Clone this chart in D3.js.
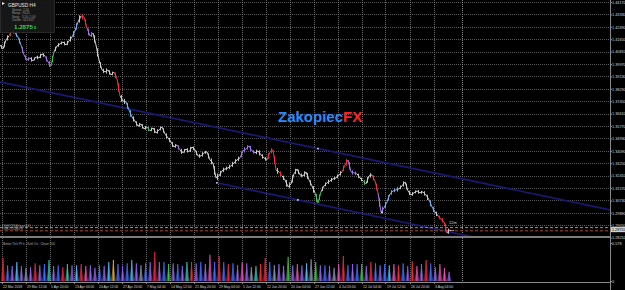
<!DOCTYPE html>
<html>
<head>
<meta charset="utf-8">
<title>GBPUSD H4</title>
<style>
  body { margin: 0; background: #000; }
  svg { display: block; font-family: "Liberation Sans", Arial, sans-serif; }
</style>
</head>
<body>
<svg id="canvas" width="625" height="290"></svg>
<script src="https://cdn.jsdelivr.net/npm/d3@7"></script>
<script>
// H4 closes, sampled along the chart
const closes = [
  1.4126, 1.4099, 1.4160, 1.4187, 1.4227, 1.4207, 1.4180, 1.4126, 1.4058, 1.4024,
  1.4038, 1.4018, 1.4045, 1.4038, 1.4065, 1.4051, 1.4011, 1.3984, 1.4079, 1.4119,
  1.4133, 1.4146, 1.4126, 1.4153, 1.4180, 1.4221, 1.4282, 1.4322, 1.4315, 1.4241,
  1.4187, 1.4207, 1.4126, 1.4024, 1.3957, 1.3943, 1.3957, 1.3923, 1.3943, 1.3896,
  1.3781, 1.3747, 1.3740, 1.3686, 1.3638, 1.3611, 1.3577, 1.3591, 1.3557, 1.3571,
  1.3544, 1.3564, 1.3530, 1.3550, 1.3571, 1.3523, 1.3496, 1.3469, 1.3435, 1.3449,
  1.3415, 1.3395, 1.3422, 1.3402, 1.3435, 1.3415, 1.3374, 1.3374, 1.3395, 1.3402,
  1.3347, 1.3327, 1.3225, 1.3239, 1.3273, 1.3286, 1.3293, 1.3307, 1.3327, 1.3347,
  1.3361, 1.3408, 1.3422, 1.3442, 1.3408, 1.3395, 1.3408, 1.3381, 1.3361, 1.3347,
  1.3402, 1.3415, 1.3280, 1.3266, 1.3239, 1.3212, 1.3165, 1.3185, 1.3253, 1.3286,
  1.3246, 1.3239, 1.3266, 1.3212, 1.3171, 1.3124, 1.3056, 1.3131, 1.3171, 1.3192,
  1.3205, 1.3219, 1.3225, 1.3246, 1.3266, 1.3313, 1.3347, 1.3266, 1.3259, 1.3253,
  1.3225, 1.3205, 1.3185, 1.3239, 1.3246, 1.3205, 1.3124, 1.2995, 1.3022, 1.3063,
  1.3117, 1.3137, 1.3144, 1.3151, 1.3171, 1.3198, 1.3137, 1.3110, 1.3124, 1.3137,
  1.3124, 1.3131, 1.3110, 1.3077, 1.3029, 1.2995, 1.2968, 1.2948, 1.2928, 1.2853,
  1.28755
];
// high-low range of each sample, in pips
const rangePips = [
  30, 25, 40, 35, 45, 30, 25, 35, 40, 30,
  25, 30, 20, 25, 30, 25, 35, 40, 45, 30,
  25, 20, 25, 30, 35, 40, 45, 50, 35, 40,
  45, 35, 50, 55, 40, 30, 35, 30, 25, 40,
  60, 45, 35, 40, 45, 35, 30, 25, 30, 25,
  30, 25, 35, 30, 25, 30, 35, 30, 35, 25,
  30, 35, 25, 30, 35, 25, 30, 25, 30, 20,
  35, 40, 60, 45, 35, 30, 25, 30, 35, 30,
  30, 40, 35, 30, 35, 25, 30, 35, 30, 25,
  40, 35, 55, 40, 35, 30, 45, 40, 50, 35,
  30, 25, 35, 40, 35, 45, 55, 40, 30, 25,
  30, 25, 20, 25, 30, 40, 45, 50, 30, 25,
  30, 25, 35, 40, 30, 35, 45, 60, 45, 40,
  35, 30, 25, 30, 25, 35, 40, 30, 25, 20,
  25, 20, 30, 35, 40, 35, 30, 25, 30, 50,
  35
];
// candle colour runs (w white, r red, b light blue, p purple, g green)
const toneRuns = [
  ["w",4],["r",2],["b",2],["p",3],["w",5],["p",2],["g",1],["w",6],["b",2],["w",1],
  ["r",2],["p",2],["w",7],["r",2],["w",2],["b",2],["w",5],["g",1],["w",9],["p",1],
  ["w",20],["p",5],["w",4],["r",3],["w",1],["r",1],["w",11],["g",2],["w",7],["r",2],
  ["p",3],["w",2],["g",1],["w",2],["r",2],["p",2],["b",5],["w",10],["b",2],["w",1],
  ["r",3],["w",1]
];
const dateLabels = ["22 Mar 2018", "29 Mar 12:00", "5 Apr 20:00", "13 Apr 04:00", "20 Apr 12:00",
  "27 Apr 20:00", "7 May 04:00", "14 May 12:00", "21 May 20:00", "29 May 04:00", "5 Jun 12:00",
  "12 Jun 20:00", "20 Jun 04:00", "27 Jun 12:00", "4 Jul 20:00", "12 Jul 04:00", "19 Jul 12:00",
  "26 Jul 20:00", "3 Aug 04:00"];
const priceTicks = [1.44170, 1.43330, 1.42490, 1.41650, 1.40810, 1.39970, 1.39130, 1.38290,
  1.37450, 1.36610, 1.35770, 1.34930, 1.34090, 1.33250, 1.32410, 1.31570, 1.30730, 1.29890,
  1.29050, 1.28210];
const upperChannel = [[0, 1.3876], [106, 1.3424]];
const lowerChannel = [[72.3, 1.3192], [99.3, 1.3076]];
const markers = [[72.3, 1.3192], [99.3, 1.3076], [106, 1.3424], [127.3, 1.2991]];
const orderPrices = [1.28885, 1.2867];
const orderLabels = ["#SHOT2DM buy 0.01", "#SHOT2DM4 sl"];
const currentPrice = 1.28755;
// tick volume spikes (one per session) and their colours
const volumes = [
  .35,.24,.23,.29,.23,.20,.21,.27,.24,.26, .32,.23,.24,.21,.26,.24,.24,.26,.23,.24,
  .20,.24,.23,.29,.32,.26,.23,.27,.32,.27, .24,.27,.29,.44,.29,.29,.26,.27,.26,.23,
  .29,.29,
  .27,.29,.26,.40,.29,.38,.29,.26,.27,.24, .29,.27,.21,.23,.26,.35,.29,.24,.26,.23,
  .37,.24,.26,.24,.27,.33,.29,.24,.24,.23, .20,.26,.38,.24,.26,.26,.26,.23,.29,.27,
  .24,.26,.24,.26,.24,.27,.23,.30,
  .23,.26,.32,.27,.21,.26,.20,.14
];
const volTones = ("r b p l p s p r p b t p b r t p l r k p p b p l o b p b l p s b p r p b g p b p t r " +
  "p b p k b r b r b p k p s t r r b s p p g p k p l s g p b p s k r b p b g p r b p b l k r b p r " +
  "k p r b p k k p").split(" ");

const toneColor = { w: "#d4d4d4", r: "#ff3434", b: "#6cb8ff", p: "#a678f0", g: "#3cc85a" };
const volColor = { r: "#e8283c", b: "#3c6cff", p: "#9060e0", l: "#50b0f0", s: "#8890a8",
  t: "#30c0b0", k: "#e050b0", g: "#40c040", o: "#e0a030" };

const svg = d3.select("#canvas");
const plotRight = 610, mainBottom = 236, subTop = 238, subBottom = 282;

const x = d3.scaleLinear().domain([0, 203]).range([0, 609]);
const y = d3.scaleLinear().domain([1.2905, 1.4417]).range([225.2, 2]);
const v = d3.scaleLinear().domain([0, 0.578]).range([281, 243]);

svg.append("rect").attr("width", 625).attr("height", 290).attr("fill", "#000");

svg.append("clipPath").attr("id", "mainClip")
  .append("rect").attr("width", plotRight).attr("height", mainBottom);

// grid
const grid = svg.append("g");
grid.selectAll("line.h").data(priceTicks.filter(d => y(d) < mainBottom)).enter().append("line")
  .attr("x1", 0).attr("x2", plotRight)
  .attr("y1", d => Math.round(y(d)) + 0.5).attr("y2", d => Math.round(y(d)) + 0.5)
  .attr("stroke", "#585858").attr("stroke-dasharray", "1,1");
const tickBars = dateLabels.map((d, i) => 0.5 + i * 8).concat([154]);
[[0, mainBottom], [subTop, subBottom]].forEach(([a, b]) => {
  grid.selectAll(null).data(tickBars).enter().append("line")
    .attr("x1", d => Math.round(x(d)) + 0.5).attr("x2", d => Math.round(x(d)) + 0.5)
    .attr("y1", a).attr("y2", b)
    .attr("stroke", (d, i) => i === tickBars.length - 1 ? "#8a8a8a" : "#666")
    .attr("stroke-dasharray", "1,1");
});

// watermark
const wm = svg.append("text").attr("x", 278).attr("y", 122)
  .attr("font-size", 15).attr("font-weight", "bold");
wm.append("tspan").attr("fill", "#2a8cff").text("Zakopiec");
wm.append("tspan").attr("fill", "#ff2323").text("FX");

const main = svg.append("g").attr("clip-path", "url(#mainClip)");

// channel
function channelEnds(pair) {
  const slope = (pair[1][1] - pair[0][1]) / (pair[1][0] - pair[0][0]);
  return [pair[0], [210, pair[0][1] + slope * (210 - pair[0][0])]];
}
main.selectAll("path.chan").data([upperChannel, lowerChannel].map(channelEnds)).enter().append("path")
  .attr("d", d3.line().x(d => x(d[0])).y(d => y(d[1])))
  .attr("fill", "none").attr("stroke", "#1a1a74").attr("stroke-width", 1.6);

// order lines
main.selectAll("line.ord").data(orderPrices).enter().append("line")
  .attr("x1", 0).attr("x2", plotRight)
  .attr("y1", d => y(d)).attr("y2", d => y(d))
  .attr("stroke", (d, i) => i === 0 ? "#c88a48" : "#a84a2c")
  .attr("stroke-width", 1).attr("stroke-dasharray", "3,2");
svg.selectAll("text.ord").data(orderLabels).enter().append("text")
  .attr("x", 2).attr("y", (d, i) => y(orderPrices[i]) - 0.6)
  .attr("font-size", 3).attr("fill", "#a8a8a8").text(d => d);

// price: candles sampled as close-to-close strokes plus high-low wicks
const tones = [];
toneRuns.forEach(([t, n]) => { for (let k = 0; k < n; k++) tones.push(t); });
const segs = closes.slice(1).map((c, i) => ({ a: [i, closes[i]], b: [i + 1, c], t: tones[i + 1] }));
main.selectAll("line.px").data(segs).enter().append("line")
  .attr("x1", d => x(d.a[0])).attr("y1", d => y(d.a[1]))
  .attr("x2", d => x(d.b[0])).attr("y2", d => y(d.b[1]))
  .attr("stroke", d => toneColor[d.t]).attr("stroke-width", 1);
main.selectAll("line.wick").data(segs).enter().append("line")
  .attr("x1", (d, i) => x(i + 0.5)).attr("x2", (d, i) => x(i + 0.5))
  .attr("y1", (d, i) => y((d.a[1] + d.b[1]) / 2 + rangePips[i + 1] * 0.00005))
  .attr("y2", (d, i) => y((d.a[1] + d.b[1]) / 2 - rangePips[i + 1] * 0.00005))
  .attr("stroke", d => toneColor[d.t]).attr("stroke-width", 0.9);

main.selectAll("circle.mk").data(markers).enter().append("circle")
  .attr("cx", d => x(d[0])).attr("cy", d => y(d[1])).attr("r", 0.9).attr("fill", "#e8e8ff");

svg.append("text").attr("x", 449).attr("y", 223.5).attr("font-size", 4)
  .attr("fill", "#d8d8d8").text("12m");
svg.append("text").attr("x", 450).attr("y", 231.5).attr("font-size", 4)
  .attr("fill", "#e8e8e8").text("\u2022\u00b7\u2022");

// separator
svg.append("rect").attr("x", 0).attr("y", mainBottom).attr("width", plotRight).attr("height", 2)
  .attr("fill", "#7c7c7c");

// volume spikes
const vx = d3.scaleLinear().domain([0, volumes.length - 1]).range([x(1), x(149.7)]);
const spikes = svg.append("g");
spikes.selectAll("path").data(volumes).enter().append("path")
  .attr("d", (d, i) => `M${vx(i) - 2.3},${v(0)}L${vx(i)},${v(d)}L${vx(i) + 2.3},${v(0)}Z`)
  .attr("fill", (d, i) => volColor[volTones[i]]).attr("opacity", 0.6);
spikes.selectAll("line").data(volumes).enter().append("line")
  .attr("x1", (d, i) => vx(i)).attr("x2", (d, i) => vx(i))
  .attr("y1", v(0)).attr("y2", d => v(d))
  .attr("stroke", (d, i) => volColor[volTones[i]]).attr("stroke-width", 1.1);
svg.append("text").attr("x", 3).attr("y", 245).attr("font-size", 3.2).attr("fill", "#b0b0b0")
  .text("Better Tick Pt h ; Ketl Os : Clean 700");

// axes frame
svg.append("line").attr("x1", plotRight + 0.5).attr("x2", plotRight + 0.5).attr("y1", 0).attr("y2", 290)
  .attr("stroke", "#8a8a8a");
svg.append("line").attr("x1", 0).attr("x2", plotRight).attr("y1", subBottom + 0.5).attr("y2", subBottom + 0.5)
  .attr("stroke", "#8a8a8a");

// price axis
const yAxis = d3.axisRight(y).tickValues(priceTicks).tickSize(2).tickFormat(d3.format(".5f"));
const ya = svg.append("g").attr("transform", `translate(${plotRight},0)`).call(yAxis);
ya.select(".domain").remove();
ya.selectAll("line").attr("stroke", "#8a8a8a");
ya.selectAll("text").attr("x", 2).attr("fill", "#d8d8d8").attr("font-size", 3.8)
  .attr("font-family", "Liberation Sans, Arial, sans-serif");

// current price box
svg.append("rect").attr("x", plotRight + 1).attr("y", y(currentPrice) - 2.6).attr("width", 15).attr("height", 5.2)
  .attr("fill", "#d0d0d0");
svg.append("text").attr("x", plotRight + 2).attr("y", y(currentPrice) + 1.3).attr("font-size", 3.7)
  .attr("fill", "#000").text(d3.format(".5f")(currentPrice));

// sub window scale
const va = svg.append("g").attr("transform", `translate(${plotRight},0)`)
  .call(d3.axisRight(v).tickValues([0.578, 0]).tickSize(2).tickFormat(d => d === 0 ? "0" : "0.578"));
va.select(".domain").remove();
va.selectAll("line").attr("stroke", "#8a8a8a");
va.selectAll("text").attr("x", 2).attr("fill", "#d8d8d8").attr("font-size", 3.8)
  .attr("font-family", "Liberation Sans, Arial, sans-serif");

// time axis
const xa = svg.append("g");
xa.selectAll("line").data(tickBars.slice(0, dateLabels.length)).enter().append("line")
  .attr("x1", d => Math.round(x(d)) + 0.5).attr("x2", d => Math.round(x(d)) + 0.5)
  .attr("y1", subBottom).attr("y2", subBottom + 2).attr("stroke", "#8a8a8a");
xa.selectAll("text").data(dateLabels).enter().append("text")
  .attr("x", (d, i) => x(tickBars[i]) + 1.5).attr("y", 288)
  .attr("font-size", 3.4).attr("fill", "#d8d8d8").text(d => d);

// info box
const info = svg.append("g");
info.append("rect").attr("x", 0.5).attr("y", -1).attr("width", 54).attr("height", 33.5)
  .attr("fill", "#181818").attr("stroke", "#2c2c2c").attr("opacity", 0.95);
info.append("path").attr("d", "M2,2L5,3.5L2,5Z").attr("fill", "#e0e0e0");
info.append("text").attr("x", 8).attr("y", 7).attr("font-size", 4.8).attr("fill", "#e6e6e6")
  .text("GBPUSD  H4");
const infoLines = ["Spread : 2.00", "Range : 98.20", "Swap : -5.16 / 1.00", "Candle : 02:23:07"];
info.selectAll("text.ln").data(infoLines).enter().append("text")
  .attr("x", 12).attr("y", (d, i) => 11 + i * 3.4).attr("font-size", 2.8).attr("fill", "#9a9a9a")
  .text(d => d);
const cp = info.append("text").attr("x", 14).attr("y", 28.5).attr("font-size", 6.2).attr("font-weight", "bold");
cp.append("tspan").attr("fill", "#3ad24e").text(d3.format(".4f")(Math.floor(currentPrice * 1e4) / 1e4));
cp.append("tspan").attr("fill", "#3ad24e").attr("font-size", 4).attr("dx", 1).text("5");
</script>
</body>
</html>
